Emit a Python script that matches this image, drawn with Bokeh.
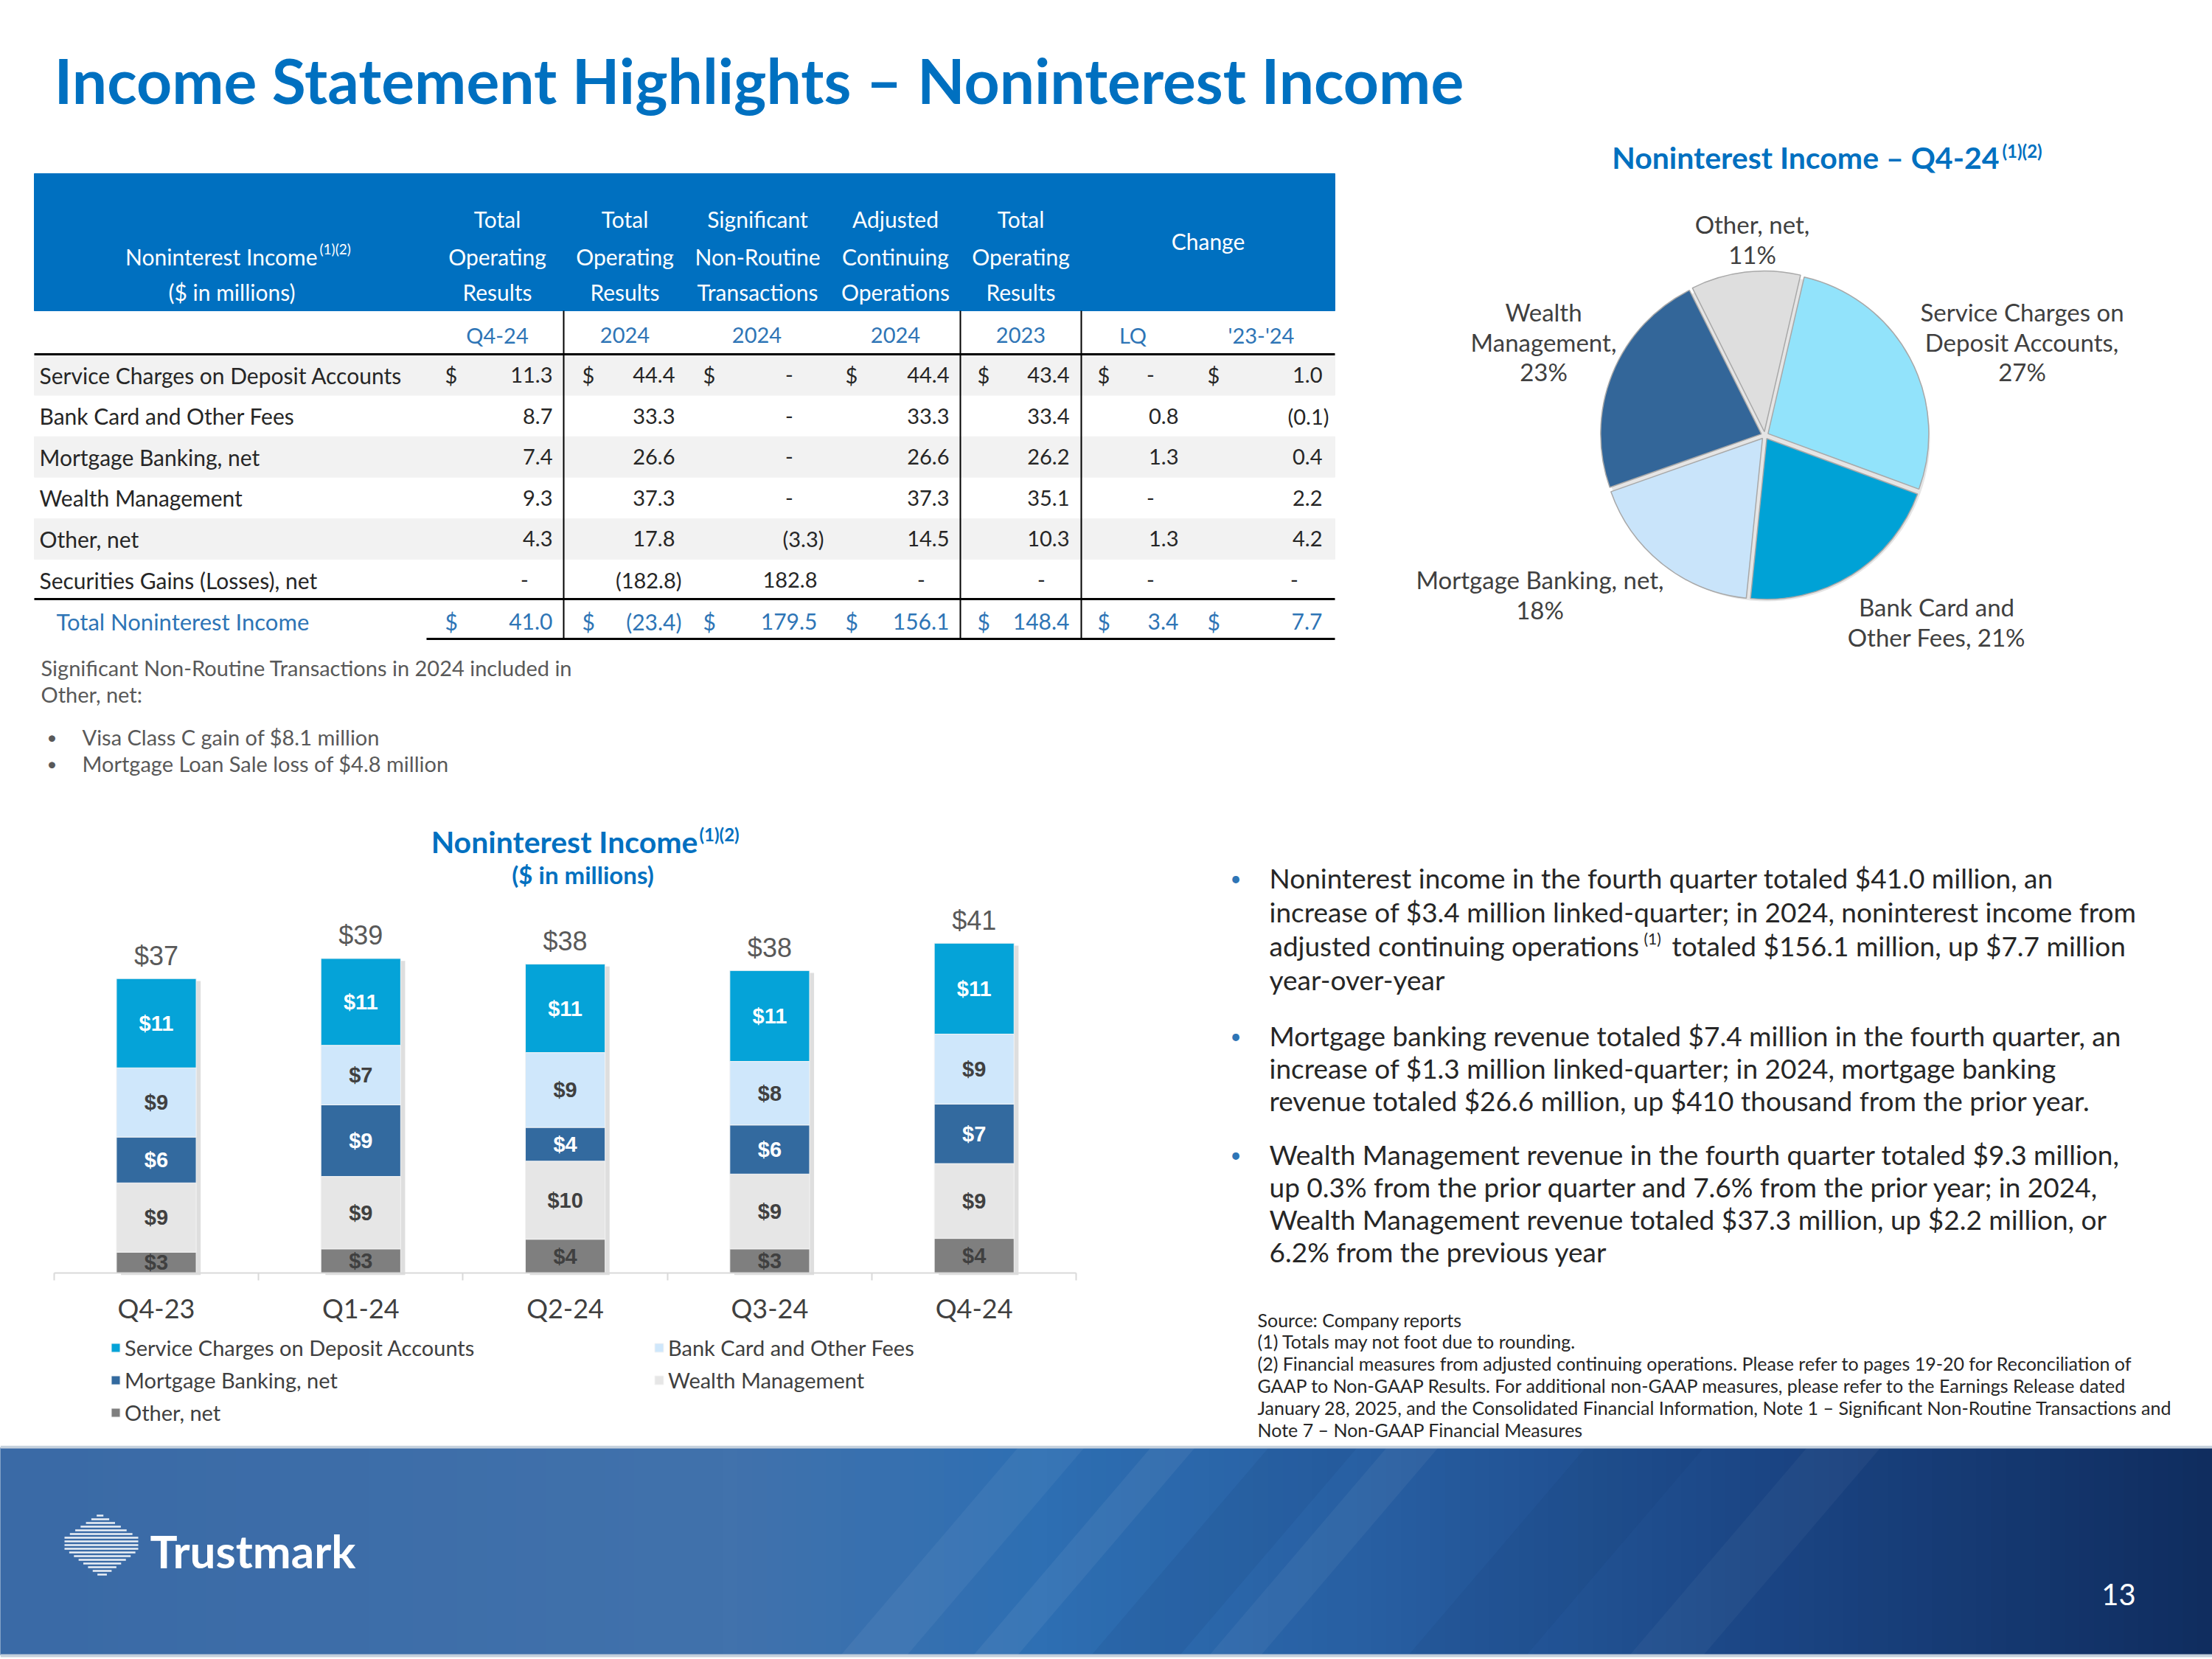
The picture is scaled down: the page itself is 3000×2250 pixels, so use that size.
import math
from bokeh.plotting import figure
from bokeh.models import Range1d, ColumnDataSource, Legend, LegendItem, LinearAxis, FixedTicker
from bokeh.layouts import column, row
from bokeh.embed import file_html
from bokeh.resources import INLINE
from bokeh.core.properties import value
from bokeh.transform import dodge

FONT = "Lato"
ARIAL = "Liberation Sans"

# ---------------- data ----------------
slide_title = "Income Statement Highlights \u2013 Noninterest Income"

table_title = "Noninterest Income"
table_title_sup = "(1)(2)"
table_units = "($ in millions)"
col_headers = [["Total", "Operating", "Results"],
               ["Total", "Operating", "Results"],
               ["Significant", "Non-Routine", "Transactions"],
               ["Adjusted", "Continuing", "Operations"],
               ["Total", "Operating", "Results"]]
change_header = "Change"
col_periods = ["Q4-24", "2024", "2024", "2024", "2023", "LQ", "'23-'24"]
row_labels = ["Service Charges on Deposit Accounts", "Bank Card and Other Fees",
              "Mortgage Banking, net", "Wealth Management", "Other, net",
              "Securities Gains (Losses), net"]
q4_24 = [11.3, 8.7, 7.4, 9.3, 4.3, None]
fy24_total = [44.4, 33.3, 26.6, 37.3, 17.8, -182.8]
fy24_sig = [None, None, None, None, -3.3, 182.8]
fy24_adj = [44.4, 33.3, 26.6, 37.3, 14.5, None]
fy23_total = [43.4, 33.4, 26.2, 35.1, 10.3, None]
chg_lq = [None, 0.8, 1.3, None, 1.3, None]
chg_yoy = [1.0, -0.1, 0.4, 2.2, 4.2, None]
total_label = "Total Noninterest Income"
total_row = [41.0, -23.4, 179.5, 156.1, 148.4, 3.4, 7.7]

notes_intro = ["Significant Non-Routine Transactions in 2024 included in", "Other, net:"]
notes_items = ["Visa Class C gain of $8.1 million", "Mortgage Loan Sale loss of $4.8 million"]

pie_title = "Noninterest Income \u2013 Q4-24"
pie_title_sup = "(1)(2)"
pie_pct = [27, 21, 18, 23, 11]
pie_label_lines = [["Service Charges on", "Deposit Accounts,", "{p}%"],
                   ["Bank Card and", "Other Fees, {p}%"],
                   ["Mortgage Banking, net,", "{p}%"],
                   ["Wealth", "Management,", "{p}%"],
                   ["Other, net,", "{p}%"]]

bar_title = "Noninterest Income"
bar_title_sup = "(1)(2)"
bar_units = "($ in millions)"
quarters = ["Q4-23", "Q1-24", "Q2-24", "Q3-24", "Q4-24"]
svc = [11.1, 10.8, 11.0, 11.3, 11.3]
bank = [8.6, 7.4, 9.3, 7.9, 8.7]
mort = [5.7, 8.9, 4.2, 6.1, 7.4]
wealth = [8.6, 9.0, 9.7, 9.3, 9.3]
other = [2.6, 3.0, 4.2, 3.0, 4.3]
series_names = ["Service Charges on Deposit Accounts", "Bank Card and Other Fees",
                "Mortgage Banking, net", "Wealth Management", "Other, net"]

bullets = [
    ["Noninterest income in the fourth quarter totaled $41.0 million, an",
     "increase of $3.4 million linked-quarter;  in 2024, noninterest income from",
     ("adjusted continuing operations", "(1)", "totaled $156.1 million, up $7.7 million"),
     "year-over-year"],
    ["Mortgage banking revenue totaled $7.4 million in the fourth quarter, an",
     "increase of $1.3 million linked-quarter; in 2024, mortgage banking",
     "revenue totaled $26.6 million, up $410 thousand from the prior year."],
    ["Wealth Management revenue in the fourth quarter totaled $9.3 million,",
     "up 0.3% from the prior quarter and 7.6% from the prior year; in 2024,",
     "Wealth Management revenue totaled $37.3 million, up $2.2 million, or",
     "6.2% from the previous year"],
]
footnotes = [
    "Source: Company reports",
    "(1) Totals may not foot due to rounding.",
    "(2) Financial measures from adjusted continuing operations. Please refer to pages 19-20 for Reconciliation of",
    "GAAP to Non-GAAP Results. For additional non-GAAP measures, please refer to the Earnings Release dated",
    "January 28, 2025, and the Consolidated Financial Information, Note 1 \u2013 Significant Non-Routine Transactions and",
    "Note 7 \u2013 Non-GAAP Financial Measures",
]
logo_text = "Trustmark"
page_number = "13"

# ---------------- styles ----------------
BLUE = "#0070C0"
TBLUE = "#2E75B6"
DARK = "#262626"
GRAY = "#404040"


def canvas(x0, x1, y0, y1, flip=True):
    p = figure(width=x1 - x0, height=y1 - y0,
               x_range=Range1d(x0, x1),
               y_range=Range1d(y1, y0) if flip else Range1d(0, y1 - y0),
               toolbar_location=None, output_backend="svg",
               x_axis_location=None, y_axis_location=None,
               min_border=0, outline_line_color=None)
    p.grid.visible = False
    p.background_fill_color = "white"
    p.border_fill_color = "white"
    return p


def txt(p, xs, ys, texts, size, color, align="left", bold=False, font=FONT, baseline="middle"):
    p.text(x=xs, y=ys, text=texts, text_font=value(font), text_font_size=f"{size}px",
           text_color=color, text_align=align, text_baseline=baseline,
           text_font_style="bold" if bold else "normal")


def fmt(v):
    if v is None:
        return "-"
    if v < 0:
        return f"({abs(v):.1f})"
    return f"{v:.1f}"


# ======================= T: slide title =======================
pT = canvas(0, 3000, 0, 180)
txt(pT, [73], [108], [slide_title], 84, BLUE, bold=True)

# ======================= A: table + notes =======================
pA = canvas(0, 1828, 180, 1100)

TL, TR = 46, 1810
pA.quad(left=[TL], right=[TR], top=[235], bottom=[421], color=BLUE)

row_y = [508 + 55.6 * i for i in range(len(row_labels))]
total_y = 842
shade = [i for i in range(len(row_labels)) if i % 2 == 0]
pA.quad(left=[TL] * len(shade), right=[TR] * len(shade),
        top=[row_y[i] - 27.5 for i in shade], bottom=[row_y[i] + 27.5 for i in shade],
        color="#F2F2F2")

# header
hdr_x = [674, 847, 1027, 1214, 1384]
hx, hy, ht = [], [], []
for cx_, lines in zip(hdr_x, col_headers):
    for ly, s in zip([296, 347, 395], lines):
        hx.append(cx_); hy.append(ly); ht.append(s)
hx.append(1638); hy.append(326); ht.append(change_header)
txt(pA, hx, hy, ht, 30, "white", align="center")
txt(pA, [430], [347], [table_title], 30, "white", align="right")
txt(pA, [433], [337], [table_title_sup], 19, "white")
txt(pA, [314], [395], [table_units], 30, "white", align="center")

sub_x = [674, 847, 1026, 1214, 1384, 1536, 1710]
txt(pA, sub_x, [454] * len(sub_x), col_periods, 29, TBLUE, align="center")

# rules
pA.segment(x0=[TL, TL, 578], y0=[480, 812, 866], x1=[TR, TR, TR], y1=[480, 812, 866],
           line_color="black", line_width=3)
pA.segment(x0=[764, 1302, 1466], y0=[421] * 3, x1=[764, 1302, 1466], y1=[866] * 3,
           line_color="black", line_width=2)

# body
txt(pA, [53] * len(row_labels), row_y, row_labels, 30, DARK)
columns = [q4_24, fy24_total, fy24_sig, fy24_adj, fy23_total, chg_lq, chg_yoy]
col_right = [749, 915, 1108, 1287, 1450, 1598, 1793]
col_dollar = [603, 789, 953, 1146, 1325, 1488, 1637]


def place_values(vals, ys, color, size):
    rx, ry, rt, cx_, cy_, ct = [], [], [], [], [], []
    for R, v, y in zip(col_right, vals, ys):
        if v is None:
            cx_.append(R - 38); cy_.append(y); ct.append("-")
        elif v < 0:
            rx.append(R + 9); ry.append(y); rt.append(fmt(v))
        else:
            rx.append(R); ry.append(y); rt.append(fmt(v))
    if rt:
        txt(pA, rx, ry, rt, size, color, align="right")
    if ct:
        txt(pA, cx_, cy_, ct, size, color, align="center")


for i in range(len(row_labels)):
    place_values([c[i] for c in columns], [row_y[i]] * len(columns), DARK, 29)
txt(pA, col_dollar, [row_y[0]] * len(col_dollar), ["$"] * len(col_dollar), 29, DARK)

txt(pA, [76], [total_y], [total_label], 31, TBLUE)
place_values(total_row, [total_y] * len(total_row), TBLUE, 30)
txt(pA, col_dollar, [total_y] * len(col_dollar), ["$"] * len(col_dollar), 30, TBLUE)

# notes
txt(pA, [55, 55], [905, 941], notes_intro, 29, "#595959")
txt(pA, [63, 63], [999, 1035], ["\u2022", "\u2022"], 24, "#595959")
txt(pA, [111, 111], [999, 1035], notes_items, 29, "#595959")

# ======================= B: pie =======================
pB = canvas(1828, 3000, 180, 1100, flip=False)


def by(wy):
    return 1100 - wy


txt(pB, [2711], [by(213)], [pie_title], 41, BLUE, align="right", bold=True)
txt(pB, [2715], [by(204)], [pie_title_sup], 24, BLUE, bold=True)

PCX, PCY, PR = 2393, by(590), 218
pie_colors = ["#92E3FB", "#00A2D6", "#C9E4FA", "#336699", "#DEDEDE"]
start = math.radians(77)
s_ang, e_ang, px, py = [], [], [], []
cum = 0.0
tot = float(sum(pie_pct))
for pct in pie_pct:
    a0 = start - 2 * math.pi * cum / tot
    a1 = start - 2 * math.pi * (cum + pct) / tot
    mid = (a0 + a1) / 2
    s_ang.append(a0); e_ang.append(a1)
    px.append(PCX + 5 * math.cos(mid)); py.append(PCY + 5 * math.sin(mid))
    cum += pct
pB.circle(x=[PCX + 3], y=[PCY - 4], radius=PR + 3, fill_color="#000000", fill_alpha=0.10, line_color=None)
pB.wedge(x=px, y=py, radius=PR, start_angle=s_ang, end_angle=e_ang, direction="clock",
         fill_color=pie_colors, line_color="#A8A8A8", line_width=1.5)

pie_lab_x = [2742, 2626, 2088, 2093, 2376]
pie_lab_y = [[422, 463, 503], [822, 863], [785, 826], [422, 463, 503], [303, 344]]
lx, ly, lt = [], [], []
for x, ys, lines, pct in zip(pie_lab_x, pie_lab_y, pie_label_lines, pie_pct):
    for y, s in zip(ys, lines):
        lx.append(x); ly.append(by(y)); lt.append(s.format(p=pct))
txt(pB, lx, ly, lt, 33, GRAY, align="center")

# ======================= C: stacked bars =======================
Y0, PPU, X0, PPX = 1726.0, 10.91, 211.5, 277.3
pC = figure(width=1568, height=860,
            x_range=Range1d((0 - X0) / PPX, (1568 - X0) / PPX),
            y_range=Range1d((Y0 - 1960) / PPU, (Y0 - 1100) / PPU),
            toolbar_location=None, output_backend="svg",
            x_axis_location=None, y_axis_location=None,
            min_border=0, outline_line_color=None)
pC.grid.visible = False


def cx(wx):
    return (wx - X0) / PPX


def cy(wy):
    return (Y0 - wy) / PPU


xs = list(range(len(quarters)))
totals = [round(a + b + c + d + e, 1) for a, b, c, d, e in zip(svc, bank, mort, wealth, other)]
src = ColumnDataSource(dict(x=xs, svc=svc, bank=bank, mort=mort, wealth=wealth, other=other,
                            total=totals, shadow=[t - 0.3 for t in totals]))
pC.vbar(x=dodge("x", 0.022), top="shadow", bottom=-0.25, width=0.39, source=src,
        fill_color="black", fill_alpha=0.13, line_color=None)
stack = ["other", "wealth", "mort", "bank", "svc"]
bar_colors = ["#7F7F7F", "#E6E6E6", "#336A9F", "#CFE7FB", "#05A3D8"]
rs = pC.vbar_stack(stack, x="x", width=0.39, color=bar_colors, line_color="#F4F4F4",
                   line_width=1, source=src)

# segment labels
seg_series = [other, wealth, mort, bank, svc]
seg_col = [GRAY, GRAY, "white", GRAY, "white"]
for idx, (ser, col) in enumerate(zip(seg_series, seg_col)):
    ysz = []
    for q in range(len(quarters)):
        below = sum(seg_series[k][q] for k in range(idx))
        ysz.append(below + ser[q] / 2)
    txt(pC, xs, ysz, [f"${int(v + 0.5)}" for v in ser], 29, col, align="center", bold=True, font=ARIAL)
txt(pC, xs, [t + 31 / PPU for t in totals], [f"${int(t + 0.5)}" for t in totals], 36, "#595959",
    align="center", font=ARIAL)

# axis
xax = LinearAxis(fixed_location=0,
                 ticker=FixedTicker(ticks=xs, minor_ticks=[i - 0.5 for i in range(len(quarters) + 1)]),
                 bounds=(-0.5, len(quarters) - 0.5),
                 major_label_overrides={i: q for i, q in enumerate(quarters)})
xax.axis_line_color = "#D9D9D9"
xax.axis_line_width = 2
xax.major_tick_line_color = None
xax.minor_tick_line_color = "#D9D9D9"
xax.minor_tick_line_width = 2
xax.minor_tick_in = 0
xax.minor_tick_out = 10
xax.major_label_standoff = 15
xax.major_label_text_font = FONT
xax.major_label_text_font_size = "36px"
xax.major_label_text_color = GRAY
pC.add_layout(xax, "below")

# titles
txt(pC, [cx(946)], [cy(1141)], [bar_title], 41, BLUE, align="right", bold=True)
txt(pC, [cx(948)], [cy(1131)], [bar_title_sup], 24, BLUE, bold=True)
txt(pC, [cx(790)], [cy(1185)], [bar_units], 33, BLUE, align="center", bold=True)

# legends
rmap = dict(zip(stack, rs))


def mk_legend(keys, labels, loc):
    lg = Legend(items=[LegendItem(label=l, renderers=[rmap[k]]) for k, l in zip(keys, labels)],
                location=loc, glyph_width=15, glyph_height=15, label_height=44, spacing=0,
                padding=0, margin=0, border_line_color=None, background_fill_alpha=0,
                label_text_font=FONT, label_text_font_size="29px", label_text_color=GRAY,
                label_standoff=5)
    pC.add_layout(lg)


mk_legend(["svc", "mort", "other"], [series_names[0], series_names[2], series_names[4]], (149, 23))
mk_legend(["bank", "wealth"], [series_names[1], series_names[3]], (886, 67))

# ======================= D: commentary =======================
pD = canvas(1568, 3000, 1100, 1960)
line_ys = [[1190, 1236, 1282, 1328], [1404, 1448, 1492], [1565, 1609, 1653, 1697]]
bx, bys = [], []
plain_x, plain_y, plain_t = [], [], []
for lines, ys in zip(bullets, line_ys):
    bx.append(1668); bys.append(ys[0])
    for y, s in zip(ys, lines):
        if isinstance(s, tuple):
            txt(pD, [1721], [y], [s[0]], 37, DARK)
            txt(pD, [2229], [y - 10], [s[1]], 21, DARK)
            txt(pD, [2267], [y], [s[2]], 37, DARK)
        else:
            plain_x.append(1721); plain_y.append(y); plain_t.append(s)
txt(pD, plain_x, plain_y, plain_t, 37, DARK)
txt(pD, bx, bys, ["\u2022"] * len(bx), 26, TBLUE)
txt(pD, [1705] * len(footnotes), [1789 + 29.8 * i for i in range(len(footnotes))], footnotes, 25, DARK)

# ======================= E: footer band =======================
pE = canvas(0, 3000, 1960, 2250)
stops = [(0.0, "#3A6AA6"), (0.33, "#4172AC"), (0.47, "#2E6FB3"), (0.62, "#285FA2"),
         (0.8, "#1B4584"), (1.0, "#102D5F")]


def hex2rgb(h):
    return tuple(int(h[i:i + 2], 16) for i in (1, 3, 5))


def grad(t):
    for (t0, c0), (t1, c1) in zip(stops[:-1], stops[1:]):
        if t <= t1:
            f = (t - t0) / (t1 - t0)
            a, b = hex2rgb(c0), hex2rgb(c1)
            return "#%02x%02x%02x" % tuple(int(a[k] + (b[k] - a[k]) * f) for k in range(3))
    return stops[-1][1]


N = 150
W = 3000
lefts = [W * i / N for i in range(N)]
pE.quad(left=lefts, right=[l + W / N + 1 for l in lefts], top=[1963] * N, bottom=[2244] * N,
        color=[grad((i + 0.5) / N) for i in range(N)])
bands = [(1380, 90, "white", 0.05), (1560, 60, "white", 0.06), (1720, 120, "#0B2A5A", 0.08),
         (1880, 70, "white", 0.05), (2150, 160, "#0B2A5A", 0.07), (2450, 100, "white", 0.04)]
SL = 240
pE.patches(xs=[[x, x + w, x + w - SL, x - SL] for x, w, _, _ in bands],
           ys=[[1963, 1963, 2244, 2244] for _ in bands],
           fill_color=[b[2] for b in bands], fill_alpha=[b[3] for b in bands], line_color=None)
pE.segment(x0=[0, 0], y0=[1962, 2245], x1=[3000, 3000], y1=[1962, 2245], line_color="#C5D0DC", line_width=4)

# logo: striped hexagon
hexv = [(87, 2085), (135, 2052), (187, 2085), (187, 2102), (138, 2140), (87, 2100)]


def hline_cross(yv):
    pts = []
    n = len(hexv)
    for k in range(n):
        (x1, y1), (x2, y2) = hexv[k], hexv[(k + 1) % n]
        if (y1 - yv) * (y2 - yv) <= 0 and y1 != y2:
            pts.append(x1 + (yv - y1) * (x2 - x1) / (y2 - y1))
    return (min(pts), max(pts)) if len(pts) >= 2 else None


sx0, sx1, sy = [], [], []
yv = 2055
while yv < 2139:
    c = hline_cross(yv)
    if c:
        sx0.append(c[0]); sx1.append(c[1]); sy.append(yv)
    yv += 5
pE.segment(x0=sx0, y0=sy, x1=sx1, y1=sy, line_color="white", line_width=2.5, line_alpha=0.9)
txt(pE, [203], [2102], [logo_text], 62, "white", bold=True)
txt(pE, [2873], [2162], [page_number], 40, "white", align="center")

layout = column(pT, row(pA, pB, spacing=0), row(pC, pD, spacing=0), pE, spacing=0)
open("out.html", "w").write(file_html(layout, INLINE))
